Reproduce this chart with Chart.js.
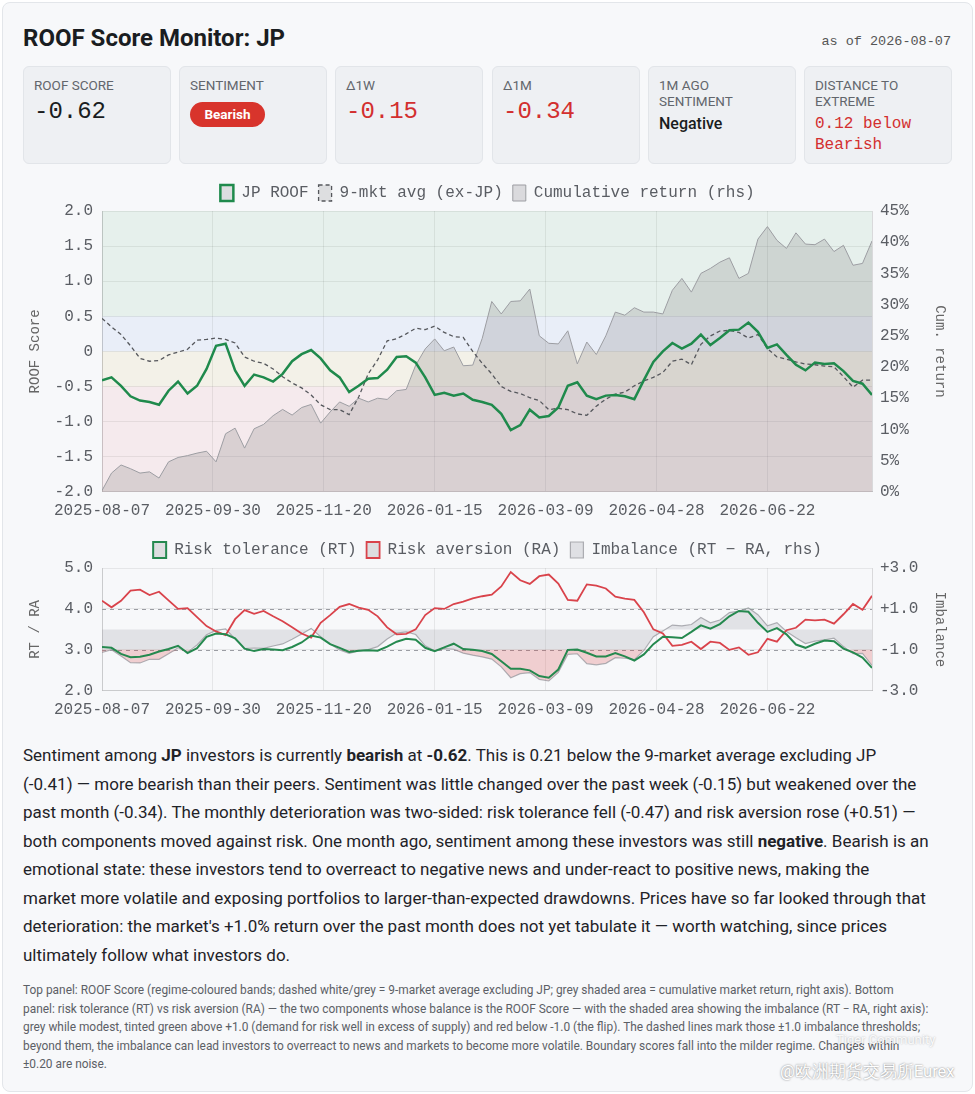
<!DOCTYPE html>
<html>
<head>
<meta charset="utf-8">
<title>ROOF Score Monitor: JP</title>
<script src="https://cdn.jsdelivr.net/npm/chart.js@4.4.1/dist/chart.umd.min.js"></script>
<style>
  html, body { margin: 0; padding: 0; background: #fff; }
  body { width: 975px; height: 1094px; position: relative; overflow: hidden;
         font-family: Roboto, "Noto Sans", sans-serif; color: #1f2328; }
  .panel { position: absolute; left: 2px; top: 2px; width: 969px; height: 1088px;
           border: 1px solid #e3e6ea; border-radius: 8px; background: #f7f8fa; }
  .title { position: absolute; left: 23px; top: 23px; font-size: 24px; font-weight: 700;
           line-height: 30px; color: #1a1d21; }
  .asof { position: absolute; right: 24px; top: 33px; font-family: "Liberation Mono", monospace;
          font-size: 13.5px; line-height: 18px; color: #555; }
  .card { position: absolute; top: 66px; width: 148px; height: 98px; box-sizing: border-box;
          background: #eef0f3; border: 1px solid #e2e5e9; border-radius: 6px; }
  .card .lbl { position: absolute; left: 10px; top: 10px; font-size: 13.5px; line-height: 16px;
               color: #62666c; text-transform: uppercase; }
  .card .val { position: absolute; left: 10px; top: 31px; font-family: "Liberation Mono", monospace;
               font-size: 24px; line-height: 28px; color: #1a1d21; }
  .card .txt { position: absolute; left: 10px; top: 47px; font-size: 16px; line-height: 20px;
               font-weight: 500; color: #1a1d21; }
  .card .mono { position: absolute; left: 10px; top: 47px; font-family: "Liberation Mono", monospace;
                font-size: 16px; line-height: 21px; color: #d32f2f; }
  .red { color: #d32f2f !important; }
  .pill { position: absolute; left: 10px; top: 35px; width: 75px; height: 25px; border-radius: 13px;
          background: #d8342c; color: #fff; font-size: 13.5px; font-weight: 700; line-height: 25px;
          text-align: center; }
  .chart { position: absolute; left: 23px; width: 929px; }
  .body { position: absolute; left: 23px; top: 741px; width: 940px; font-size: 17px; line-height: 28.5px;
          white-space: nowrap; color: #1f2328; }
  .foot { position: absolute; left: 23px; top: 981px; width: 940px; font-size: 11.9px; line-height: 18.5px;
          white-space: nowrap; color: #5c6066; }
  .wm1 { position: absolute; left: 836px; top: 1032px; font-size: 13px; color: rgba(255,255,255,0.9);
         text-shadow: 0 0 2px rgba(0,0,0,0.3); }
  .wm2 { position: absolute; left: 780px; top: 1061px; font-size: 16.5px; color: #fff;
         text-shadow: 0 0 2px rgba(0,0,0,0.55); }
</style>
</head>
<body>
<div class="panel"></div>
<div class="title">ROOF Score Monitor: JP</div>
<div class="asof">as of 2026-08-07</div>

<div class="card" style="left:23px"><div class="lbl">ROOF Score</div><div class="val">-0.62</div></div>
<div class="card" style="left:179px"><div class="lbl">Sentiment</div><div class="pill">Bearish</div></div>
<div class="card" style="left:335px"><div class="lbl">Δ1W</div><div class="val red">-0.15</div></div>
<div class="card" style="left:492px"><div class="lbl">Δ1M</div><div class="val red">-0.34</div></div>
<div class="card" style="left:648px"><div class="lbl">1M ago<br>sentiment</div><div class="txt">Negative</div></div>
<div class="card" style="left:804px"><div class="lbl">Distance to<br>extreme</div><div class="mono">0.12 below<br>Bearish</div></div>

<div class="chart" style="top:175px;height:354px"><canvas id="roofChart"></canvas></div>
<div class="chart" style="top:532px;height:196px"><canvas id="balanceChart"></canvas></div>

<div class="body">
Sentiment among <b>JP</b> investors is currently <b>bearish</b> at <b>-0.62</b>. This is 0.21 below the 9-market average excluding JP<br>
(-0.41) — more bearish than their peers. Sentiment was little changed over the past week (-0.15) but weakened over the<br>
past month (-0.34). The monthly deterioration was two-sided: risk tolerance fell (-0.47) and risk aversion rose (+0.51) —<br>
both components moved against risk. One month ago, sentiment among these investors was still <b>negative</b>. Bearish is an<br>
emotional state: these investors tend to overreact to negative news and under-react to positive news, making the<br>
market more volatile and exposing portfolios to larger-than-expected drawdowns. Prices have so far looked through that<br>
deterioration: the market's +1.0% return over the past month does not yet tabulate it — worth watching, since prices<br>
ultimately follow what investors do.
</div>

<div class="foot">
Top panel: ROOF Score (regime-coloured bands; dashed white/grey = 9-market average excluding JP; grey shaded area = cumulative market return, right axis). Bottom<br>
panel: risk tolerance (RT) vs risk aversion (RA) — the two components whose balance is the ROOF Score — with the shaded area showing the imbalance (RT − RA, right axis):<br>
grey while modest, tinted green above +1.0 (demand for risk well in excess of supply) and red below -1.0 (the flip). The dashed lines mark those ±1.0 imbalance thresholds;<br>
beyond them, the imbalance can lead investors to overreact to news and markets to become more volatile. Boundary scores fall into the milder regime. Changes within<br>
±0.20 are noise.
</div>

<div class="wm1">Tiger Community</div>
<div class="wm2">@欧洲期货交易所Eurex</div>

<script>
// trading calendar (TSE): weekdays minus exchange holidays
const START = "2025-08-07";
const END = "2026-08-07";
const holidays = [
  "2025-08-11", "2025-09-15", "2025-09-23", "2025-10-13", "2025-11-03", "2025-11-24",
  "2025-12-31", "2026-01-01", "2026-01-02", "2026-01-12", "2026-02-11", "2026-02-23",
  "2026-03-20", "2026-04-29", "2026-05-04", "2026-05-05", "2026-05-06", "2026-07-20",
];
const tickEvery = 35; // one x label every 35 trading days
const STEP = 3;

// ROOF score, JP
const roof = [
  -0.41, -0.37, -0.49, -0.64, -0.70, -0.72, -0.76, -0.56, -0.43, -0.60,
  -0.49, -0.25, 0.08, 0.11, -0.27, -0.49, -0.33, -0.37, -0.43, -0.32,
  -0.14, -0.04, 0.02, -0.10, -0.27, -0.37, -0.58, -0.49, -0.39, -0.38,
  -0.26, -0.08, -0.07, -0.16, -0.37, -0.62, -0.59, -0.63, -0.60, -0.69,
  -0.72, -0.76, -0.89, -1.12, -1.05, -0.83, -0.94, -0.92, -0.80, -0.49,
  -0.44, -0.63, -0.68, -0.63, -0.62, -0.64, -0.68, -0.41, -0.15, 0.00,
  0.12, 0.04, 0.11, 0.24, 0.09, 0.19, 0.30, 0.31, 0.41, 0.28,
  0.05, 0.10, -0.05, -0.19, -0.27, -0.16, -0.18, -0.17, -0.28, -0.42,
  -0.46, -0.62,
];
// 9-market average excluding JP
const peerAvg = [
  0.47, 0.35, 0.24, 0.08, -0.10, -0.14, -0.13, -0.05, -0.01, 0.03,
  0.16, 0.17, 0.19, 0.17, 0.12, -0.08, -0.14, -0.17, -0.25, -0.36,
  -0.45, -0.52, -0.62, -0.76, -0.83, -0.83, -0.90, -0.65, -0.32, -0.12,
  0.15, 0.18, 0.25, 0.33, 0.31, 0.36, 0.27, 0.21, 0.20, 0.00,
  -0.17, -0.32, -0.50, -0.57, -0.60, -0.66, -0.70, -0.83, -0.81, -0.83,
  -0.89, -0.91, -0.78, -0.68, -0.61, -0.58, -0.49, -0.42, -0.37, -0.30,
  -0.14, -0.11, -0.19, 0.10, 0.22, 0.29, 0.30, 0.27, 0.19, 0.24,
  0.04, -0.08, -0.11, -0.15, -0.18, -0.19, -0.21, -0.22, -0.36, -0.51,
  -0.41, -0.41,
];
// cumulative market return, %
const cumReturn = [
  0.2, 3.0, 4.3, 3.7, 3.0, 3.2, 2.2, 4.8, 5.5, 5.8,
  6.2, 6.5, 4.8, 9.3, 10.2, 7.0, 10.1, 10.8, 12.2, 13.2,
  12.3, 13.5, 14.0, 11.0, 12.8, 14.4, 13.7, 15.0, 14.4, 15.0,
  14.8, 16.2, 16.4, 20.3, 22.9, 24.5, 22.6, 23.2, 20.2, 20.3,
  24.6, 30.5, 28.5, 30.5, 30.6, 32.5, 25.0, 23.8, 23.7, 25.8,
  20.5, 24.0, 22.0, 25.0, 28.8, 28.3, 29.5, 28.8, 28.8, 28.5,
  32.3, 34.2, 32.0, 35.0, 35.8, 36.8, 37.5, 34.2, 35.0, 40.5,
  42.5, 40.3, 39.0, 41.5, 39.7, 39.6, 40.5, 38.5, 39.5, 36.3,
  36.6, 40.2,
];
// risk tolerance (RT)
const riskTol = [
  3.07, 3.05, 2.90, 2.82, 2.83, 2.88, 2.96, 3.02, 3.10, 2.92,
  3.04, 3.32, 3.40, 3.38, 3.28, 3.03, 2.97, 3.02, 3.01, 2.99,
  3.07, 3.18, 3.35, 3.30, 3.14, 3.05, 2.95, 2.98, 2.99, 2.98,
  3.08, 3.20, 3.27, 3.25, 3.05, 2.97, 3.06, 3.15, 3.02, 3.00,
  2.97, 2.90, 2.72, 2.54, 2.54, 2.50, 2.36, 2.32, 2.52, 3.00,
  3.01, 2.93, 2.84, 2.84, 2.92, 2.84, 2.74, 2.89, 3.14, 3.32,
  3.31, 3.29, 3.44, 3.60, 3.52, 3.63, 3.82, 3.95, 3.93, 3.66,
  3.44, 3.53, 3.38, 3.13, 3.05, 3.15, 3.23, 3.21, 3.03, 2.94,
  2.81, 2.56,
];
// risk aversion (RA)
const riskAv = [
  4.20, 4.04, 4.20, 4.45, 4.47, 4.34, 4.42, 4.21, 4.00, 4.02,
  3.80, 3.58, 3.45, 3.36, 3.75, 3.97, 3.88, 3.95, 3.82, 3.70,
  3.55, 3.40, 3.30, 3.66, 3.85, 4.05, 4.12, 4.03, 3.98, 3.82,
  3.55, 3.38, 3.39, 3.50, 3.85, 4.02, 4.00, 4.12, 4.18, 4.26,
  4.31, 4.35, 4.55, 4.90, 4.70, 4.61, 4.80, 4.84, 4.62, 4.22,
  4.20, 4.60, 4.57, 4.50, 4.30, 4.25, 4.22, 3.92, 3.50, 3.40,
  3.10, 3.12, 3.20, 3.02, 3.20, 3.17, 3.00, 3.06, 2.88, 2.94,
  3.27, 3.20, 3.48, 3.54, 3.74, 3.72, 3.74, 3.64, 3.87, 4.12,
  3.98, 4.32,
];

// regime edges on the ROOF scale: bearish | negative | positive | bullish
const regimeEdges = [-2, -0.5, 0, 0.5, 2];
const regimeColors = [
  "rgba(220, 60, 70, 0.07)",
  "rgba(215, 190, 80, 0.10)",
  "rgba(60, 110, 220, 0.07)",
  "rgba(40, 150, 80, 0.08)",
];
const imbThresholds = [-1, 1];

const MONO = '"Liberation Mono", "DejaVu Sans Mono", monospace';
const GRID = "rgba(0, 0, 0, 0.07)";
const BORDER = "rgba(0, 0, 0, 0.12)";
const TICK = "#5a5d63";

const tradingDays = [];
for (let d = new Date(START + "T00:00:00Z"); d <= new Date(END + "T00:00:00Z"); d.setUTCDate(d.getUTCDate() + 1)) {
  const day = d.getUTCDay();
  const s = d.toISOString().slice(0, 10);
  if (day !== 0 && day !== 6 && !holidays.includes(s)) tradingDays.push(s);
}

const pts = (arr) => arr.map((v, i) => ({ x: i * STEP, y: v }));
const imbalance = riskTol.map((v, i) => +(v - riskAv[i]).toFixed(2));

Chart.defaults.font.family = MONO;
Chart.defaults.color = TICK;
Chart.defaults.animation = false;

function xAxis() {
  return {
    type: "linear",
    min: 0,
    max: tradingDays.length - 1,
    grid: { color: GRID, drawTicks: false },
    border: { color: BORDER },
    ticks: {
      stepSize: tickEvery,
      autoSkip: false,
      maxRotation: 0,
      includeBounds: false,
      padding: 9,
      font: { size: 16 },
      callback: (v) => tradingDays[v] || "",
    },
  };
}

function legend() {
  return {
    position: "top",
    labels: {
      boxWidth: 13,
      boxHeight: 16,
      padding: 10,
      font: { size: 16 },
      color: "#5a5d63",
      filter: (item) => !!item.text,
    },
  };
}

const regimeBands = {
  id: "regimeBands",
  beforeDraw(chart) {
    const { ctx, chartArea: a, scales: { y } } = chart;
    ctx.save();
    regimeColors.forEach((c, i) => {
      const top = y.getPixelForValue(regimeEdges[i + 1]);
      const bot = y.getPixelForValue(regimeEdges[i]);
      ctx.fillStyle = c;
      ctx.fillRect(a.left, top, a.right - a.left, bot - top);
    });
    ctx.restore();
  },
};

const thresholdLines = {
  id: "thresholdLines",
  beforeDatasetsDraw(chart) {
    const { ctx, chartArea: a, scales: { y1 } } = chart;
    ctx.save();
    ctx.setLineDash([4, 4]);
    ctx.strokeStyle = "#9b9da3";
    ctx.lineWidth = 1;
    imbThresholds.forEach((v) => {
      const py = Math.round(y1.getPixelForValue(v)) + 0.5;
      ctx.beginPath();
      ctx.moveTo(a.left, py);
      ctx.lineTo(a.right, py);
      ctx.stroke();
    });
    ctx.restore();
  },
};

new Chart(document.getElementById("roofChart"), {
  type: "line",
  data: {
    datasets: [
      {
        label: "JP ROOF",
        data: pts(roof),
        borderColor: "#1f8a4c",
        backgroundColor: "rgba(0, 0, 0, 0.1)",
        borderWidth: 2.5,
        pointRadius: 0,
        order: 0,
      },
      {
        label: "9-mkt avg (ex-JP)",
        data: pts(peerAvg),
        borderColor: "#55575c",
        backgroundColor: "rgba(0, 0, 0, 0.1)",
        borderDash: [4, 3],
        borderWidth: 1.3,
        pointRadius: 0,
        order: 1,
      },
      {
        label: "Cumulative return (rhs)",
        data: pts(cumReturn),
        yAxisID: "y1",
        borderColor: "#9c9da2",
        backgroundColor: "rgba(120, 115, 120, 0.22)",
        borderWidth: 1,
        pointRadius: 0,
        fill: "start",
        order: 2,
      },
    ],
  },
  options: {
    responsive: true,
    maintainAspectRatio: false,
    layout: { padding: 0 },
    plugins: { legend: legend(), tooltip: { enabled: false } },
    scales: {
      x: xAxis(),
      y: {
        position: "left",
        min: -2,
        max: 2,
        grid: { color: GRID, drawTicks: false },
        border: { color: BORDER },
        ticks: { stepSize: 0.5, padding: 9, font: { size: 16 },
                 callback: (v) => (v === 0 ? "0" : v.toFixed(1)) },
        title: { display: true, text: "ROOF Score", font: { size: 14 }, color: "#666",
                 padding: { top: 4, bottom: 0 } },
        afterFit: (s) => { s.width = 79; },
      },
      y1: {
        position: "right",
        min: 0,
        max: 45,
        grid: { drawOnChartArea: false, drawTicks: false },
        border: { color: BORDER },
        ticks: { stepSize: 5, padding: 8, font: { size: 16 }, callback: (v) => v + "%" },
        title: { display: true, text: "Cum. return", font: { size: 14 }, color: "#666",
                 padding: { top: 4, bottom: 0 } },
        afterFit: (s) => { s.width = 80; },
      },
    },
  },
  plugins: [regimeBands],
});

new Chart(document.getElementById("balanceChart"), {
  type: "line",
  data: {
    datasets: [
      {
        label: "Risk tolerance (RT)",
        data: pts(riskTol),
        borderColor: "#25894f",
        backgroundColor: "rgba(0, 0, 0, 0.1)",
        borderWidth: 2,
        pointRadius: 0,
        order: 0,
      },
      {
        label: "Risk aversion (RA)",
        data: pts(riskAv),
        borderColor: "#d9434b",
        backgroundColor: "rgba(0, 0, 0, 0.1)",
        borderWidth: 1.8,
        pointRadius: 0,
        order: 1,
      },
      {
        label: "Imbalance (RT − RA, rhs)",
        data: pts(imbalance),
        yAxisID: "y1",
        borderColor: "rgba(150, 150, 156, 0.75)",
        backgroundColor: "rgba(140, 140, 150, 0.22)",
        borderWidth: 1.2,
        pointRadius: 0,
        fill: false,
        order: 2,
      },
      {
        label: "",
        data: pts(imbalance.map((v) => Math.max(v, 1))),
        yAxisID: "y1",
        borderWidth: 0,
        backgroundColor: "rgba(40, 160, 90, 0.16)",
        pointRadius: 0,
        fill: { value: 1 },
        order: 3,
      },
      {
        label: "",
        data: pts(imbalance.map((v) => Math.min(v, -1))),
        yAxisID: "y1",
        borderWidth: 0,
        backgroundColor: "rgba(220, 60, 60, 0.22)",
        pointRadius: 0,
        fill: { value: -1 },
        order: 4,
      },
      {
        label: "",
        data: pts(imbalance.map((v) => Math.max(-1, Math.min(1, v)))),
        yAxisID: "y1",
        borderWidth: 0,
        backgroundColor: "rgba(140, 140, 150, 0.2)",
        pointRadius: 0,
        fill: { value: 0 },
        order: 5,
      },
    ],
  },
  options: {
    responsive: true,
    maintainAspectRatio: false,
    layout: { padding: 0 },
    plugins: { legend: legend(), tooltip: { enabled: false } },
    scales: {
      x: xAxis(),
      y: {
        position: "left",
        min: 2,
        max: 5,
        grid: { color: GRID, drawTicks: false },
        border: { color: BORDER },
        ticks: { stepSize: 1, padding: 9, font: { size: 16 }, callback: (v) => v.toFixed(1) },
        title: { display: true, text: "RT / RA", font: { size: 14 }, color: "#666",
                 padding: { top: 4, bottom: 0 } },
        afterFit: (s) => { s.width = 79; },
      },
      y1: {
        position: "right",
        min: -3,
        max: 3,
        grid: { drawOnChartArea: false, drawTicks: false },
        border: { color: BORDER },
        ticks: { stepSize: 2, padding: 8, font: { size: 16 },
                 callback: (v) => (v > 0 ? "+" : "") + v.toFixed(1) },
        title: { display: true, text: "Imbalance", font: { size: 14 }, color: "#666",
                 padding: { top: 4, bottom: 0 } },
        afterFit: (s) => { s.width = 80; },
      },
    },
  },
  plugins: [thresholdLines],
});
</script>
</body>
</html>
